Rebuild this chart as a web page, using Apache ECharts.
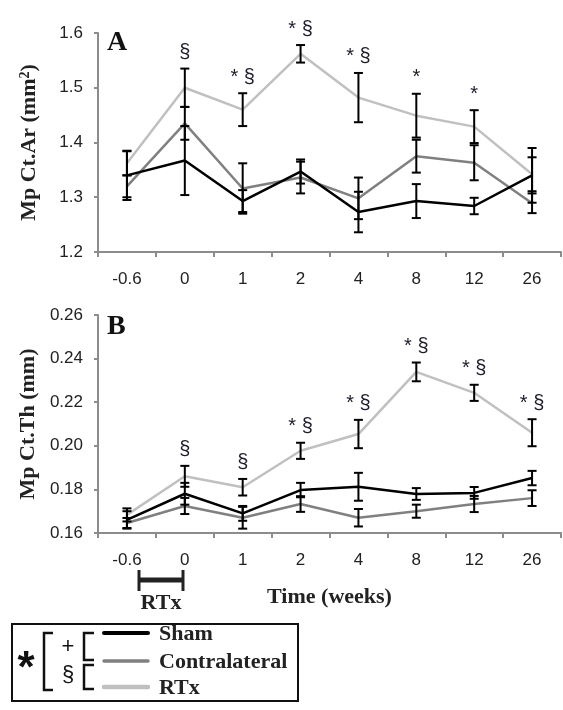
<!DOCTYPE html>
<html><head><meta charset="utf-8">
<script src="https://cdn.jsdelivr.net/npm/echarts@6/dist/echarts.min.js"></script>
<style>html,body{margin:0;padding:0;background:#fff}#c{width:563px;height:710px}</style>
</head><body><div id="c"></div>
<script>
// ---- data ----
const categories = ['-0.6', '0', '1', '2', '4', '8', '12', '26'];

// Panel A: Mp Ct.Ar (mm^2)
const shamA   = [1.340, 1.367, 1.293, 1.347, 1.273, 1.293, 1.284, 1.340];
const shamAErr = [0.045, 0.063, 0.020, 0.022, 0.037, 0.031, 0.015, 0.050];
const contraA = [1.320, 1.435, 1.316, 1.336, 1.298, 1.375, 1.363, 1.289];
const contraAErr = [0.020, 0.030, 0.046, 0.029, 0.038, 0.030, 0.032, 0.018];
const rtxA    = [1.362, 1.500, 1.460, 1.562, 1.482, 1.449, 1.429, 1.342];
const rtxAErr = [0.022, 0.035, 0.030, 0.016, 0.045, 0.040, 0.030, 0.031];
const annA = ['', '§', '* §', '* §', '* §', '*', '*', ''];

// Panel B: Mp Ct.Th (mm)
const shamB   = [0.1660, 0.1780, 0.1690, 0.1797, 0.1812, 0.1779, 0.1784, 0.1852];
const shamBErr = [0.0040, 0.0050, 0.0034, 0.0033, 0.0064, 0.0027, 0.0027, 0.0033];
const contraB = [0.1646, 0.1724, 0.1670, 0.1733, 0.1670, 0.1700, 0.1733, 0.1760];
const contraBErr = [0.0023, 0.0037, 0.0050, 0.0036, 0.0040, 0.0030, 0.0037, 0.0036];
const rtxB    = [0.1683, 0.1860, 0.1810, 0.1977, 0.2054, 0.2339, 0.2243, 0.2060];
const rtxBErr = [0.0030, 0.0048, 0.0038, 0.0037, 0.0065, 0.0043, 0.0037, 0.0062];
const annB = ['', '§', '§', '* §', '* §', '* §', '* §', '* §'];

// ---- styles ----
const C_SHAM = '#000000', C_CONTRA = '#808080', C_RTX = '#c0c0c0';
const AXIS_C = '#8c8c8c';
const SERIF = '"Liberation Serif","Times New Roman",serif';
const SANS = '"Liberation Sans",Arial,sans-serif';

function errData(vals, errs) {
  return vals.map((v, i) => [i, v - errs[i], v + errs[i]]);
}
function errSeries(vals, errs, idx) {
  return {
    type: 'custom', xAxisIndex: idx, yAxisIndex: idx, z: 5,
    data: errData(vals, errs),
    renderItem: function (params, api) {
      const lo = api.coord([api.value(0), api.value(1)]);
      const hi = api.coord([api.value(0), api.value(2)]);
      const w = 4.5;
      const st = { stroke: '#000', lineWidth: 2 };
      return { type: 'group', children: [
        { type: 'line', shape: { x1: hi[0], y1: hi[1], x2: lo[0], y2: lo[1] }, style: st },
        { type: 'line', shape: { x1: hi[0] - w, y1: hi[1], x2: hi[0] + w, y2: hi[1] }, style: st },
        { type: 'line', shape: { x1: lo[0] - w, y1: lo[1], x2: lo[0] + w, y2: lo[1] }, style: st }
      ]};
    }
  };
}
function lineSeries(name, vals, color, idx, z) {
  return { name: name, type: 'line', xAxisIndex: idx, yAxisIndex: idx, data: vals,
    symbol: 'none', z: z, lineStyle: { color: color, width: 2.5 }, animation: false };
}
function annSeries(vals, errs, texts, idx) {
  return { type: 'scatter', xAxisIndex: idx, yAxisIndex: idx, symbolSize: 0, z: 6,
    itemStyle: { color: '#000', opacity: 1 },
    data: vals.map((v, i) => [i, v + errs[i]]),
    label: { show: true, position: 'top', distance: 6, opacity: 1,
      formatter: p => texts[p.dataIndex], fontFamily: SANS, fontSize: 20, color: '#1c1c2c' } };
}

function xAxis(idx, name) {
  return { type: 'category', gridIndex: idx, data: categories, boundaryGap: true,
    axisLine: { lineStyle: { color: AXIS_C, width: 2 } },
    axisTick: { show: true, length: 5, lineStyle: { color: AXIS_C, width: 2 } },
    axisLabel: { color: '#222', fontFamily: SANS, fontSize: 17, margin: 19 },
    name: name || '', nameLocation: 'middle', nameGap: 53,
    nameTextStyle: { fontFamily: SERIF, fontWeight: 'bold', fontSize: 22, color: '#222' } };
}
function yAxis(idx, min, max, interval, dec, name) {
  return { type: 'value', gridIndex: idx, min: min, max: max, interval: interval,
    splitLine: { show: false },
    axisLine: { show: true, lineStyle: { color: AXIS_C, width: 2 } },
    axisTick: { show: true, length: 4, lineStyle: { color: AXIS_C, width: 2 } },
    axisLabel: { color: '#222', fontFamily: SANS, fontSize: 17, margin: 15,
      formatter: v => v.toFixed(dec) },
    name: name, nameLocation: 'middle', nameRotate: 90, nameGap: 58,
    nameTextStyle: { fontFamily: SERIF, fontWeight: 'bold', fontSize: 22, color: '#222',
      rich: { sup: { fontFamily: SERIF, fontWeight: 'bold', fontSize: 14, color: '#222', verticalAlign: 'top', padding: [0, 0, 8, 0] } } } };
}

const chart = echarts.init(document.getElementById('c'), null, { renderer: 'canvas' });

const legendLines = [
  { y: 633, color: C_SHAM, w: 4, text: 'Sham' },
  { y: 661, color: C_CONTRA, w: 3.5, text: 'Contralateral' },
  { y: 687, color: C_RTX, w: 4.5, text: 'RTx' }
];
const graphics = [
  { type: 'text', x: 107, y: 43, style: { text: 'A', font: 'bold 28px ' + SERIF, fill: '#111', verticalAlign: 'middle' } },
  { type: 'text', x: 107, y: 327, style: { text: 'B', font: 'bold 28px ' + SERIF, fill: '#111', verticalAlign: 'middle' } },
  // RTx bracket under x axis
  { type: 'polyline', shape: { points: [[139, 570], [139, 591]] }, style: { stroke: '#222', lineWidth: 3 } },
  { type: 'polyline', shape: { points: [[183, 570], [183, 591]] }, style: { stroke: '#222', lineWidth: 3 } },
  { type: 'line', shape: { x1: 139, y1: 580, x2: 183, y2: 580 }, style: { stroke: '#222', lineWidth: 5 } },
  { type: 'text', x: 161, y: 603, style: { text: 'RTx', font: 'bold 22px ' + SERIF, fill: '#222', align: 'center', verticalAlign: 'middle' } },
  // legend box
  { type: 'rect', shape: { x: 12, y: 624, width: 286, height: 77 }, style: { fill: 'none', stroke: '#111', lineWidth: 2 } },
  { type: 'text', x: 26, y: 670, style: { text: '*', font: 'bold 44px ' + SANS, fill: '#111', align: 'center', verticalAlign: 'middle' } },
  { type: 'polyline', shape: { points: [[53, 633], [44, 633], [44, 690], [53, 690]] }, style: { stroke: '#111', lineWidth: 2.5, fill: 'none' } },
  { type: 'text', x: 68, y: 647, style: { text: '+', font: '22px ' + SANS, fill: '#111', align: 'center', verticalAlign: 'middle' } },
  { type: 'text', x: 68, y: 675, style: { text: '§', font: '22px ' + SANS, fill: '#111', align: 'center', verticalAlign: 'middle' } },
  { type: 'polyline', shape: { points: [[94, 633], [84, 633], [84, 660], [94, 660]] }, style: { stroke: '#111', lineWidth: 2.5, fill: 'none' } },
  { type: 'polyline', shape: { points: [[94, 665], [84, 665], [84, 689], [94, 689]] }, style: { stroke: '#111', lineWidth: 2.5, fill: 'none' } }
];
legendLines.forEach(l => {
  graphics.push({ type: 'line', shape: { x1: 104, y1: l.y, x2: 148, y2: l.y }, style: { stroke: l.color, lineWidth: l.w, lineCap: 'round' } });
  graphics.push({ type: 'text', x: 159, y: l.y + 1, style: { text: l.text, font: 'bold 22px ' + SERIF, fill: '#222', verticalAlign: 'middle' } });
});

chart.setOption({
  animation: false,
  backgroundColor: '#fff',
  grid: [
    { left: 98, top: 33, width: 463, height: 219 },
    { left: 98, top: 315, width: 463, height: 218 }
  ],
  xAxis: [xAxis(0), xAxis(1, 'Time (weeks)')],
  yAxis: [
    yAxis(0, 1.2, 1.6, 0.1, 1, 'Mp Ct.Ar (mm{sup|2})'),
    yAxis(1, 0.16, 0.26, 0.02, 2, 'Mp Ct.Th (mm)')
  ],
  series: [
    lineSeries('RTx', rtxA, C_RTX, 0, 2),
    lineSeries('Contralateral', contraA, C_CONTRA, 0, 3),
    lineSeries('Sham', shamA, C_SHAM, 0, 4),
    errSeries(rtxA, rtxAErr, 0), errSeries(contraA, contraAErr, 0), errSeries(shamA, shamAErr, 0),
    annSeries(rtxA, rtxAErr, annA, 0),
    lineSeries('RTx', rtxB, C_RTX, 1, 2),
    lineSeries('Contralateral', contraB, C_CONTRA, 1, 3),
    lineSeries('Sham', shamB, C_SHAM, 1, 4),
    errSeries(rtxB, rtxBErr, 1), errSeries(contraB, contraBErr, 1), errSeries(shamB, shamBErr, 1),
    annSeries(rtxB, rtxBErr, annB, 1)
  ],
  graphic: graphics
});
</script></body></html>
